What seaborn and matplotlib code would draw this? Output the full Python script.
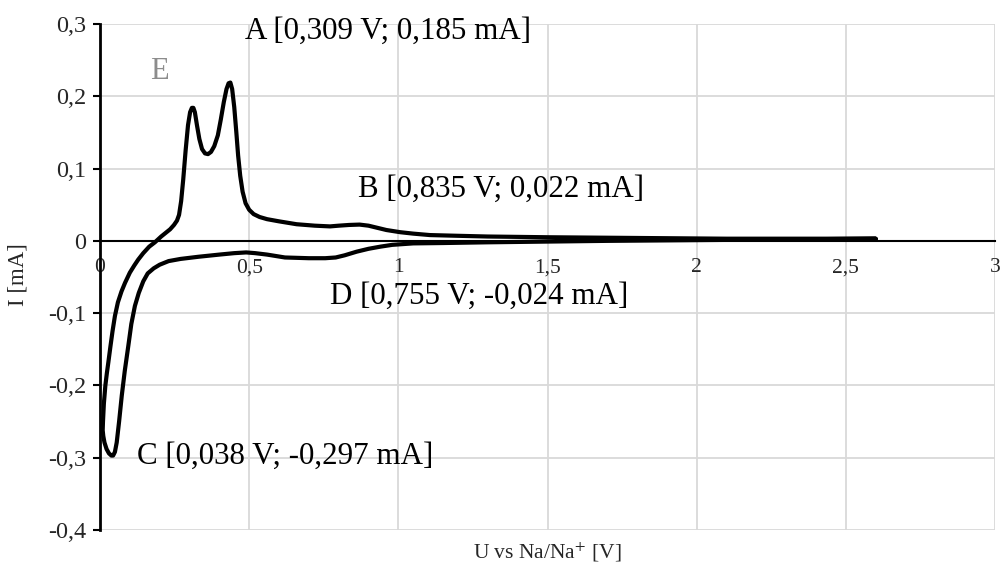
import numpy as np
import pandas as pd
import seaborn as sns
import matplotlib
matplotlib.use("Agg")
import matplotlib.pyplot as plt
from matplotlib.ticker import FuncFormatter

# Cathodic scan (from OCV down to ~0 V)
u_cath = [2.60, 2.30, 2.00, 1.70, 1.50, 1.30, 1.15, 1.05, 0.98, 0.94, 0.90, 0.86, 0.82,
          0.79, 0.755, 0.70, 0.62, 0.56, 0.52, 0.49, 0.45, 0.40, 0.33, 0.27, 0.23, 0.20,
          0.18, 0.16, 0.145, 0.13, 0.117, 0.105, 0.095, 0.083, 0.073, 0.064, 0.056,
          0.050, 0.044, 0.038, 0.030, 0.022, 0.015, 0.011, 0.009]
i_cath = [0.003, 0.002, 0.001, 0.000, -0.001, -0.002, -0.003, -0.0035, -0.0055, -0.008,
          -0.011, -0.015, -0.020, -0.023, -0.024, -0.024, -0.023, -0.019, -0.017, -0.016,
          -0.017, -0.019, -0.022, -0.025, -0.028, -0.033, -0.038, -0.045, -0.056, -0.072,
          -0.090, -0.115, -0.145, -0.180, -0.214, -0.250, -0.279, -0.292, -0.297, -0.297,
          -0.294, -0.288, -0.279, -0.270, -0.262]

# Anodic scan (back up to 2.6 V)
u_anod = [0.009, 0.010, 0.013, 0.018, 0.023, 0.028, 0.035, 0.042, 0.050, 0.060, 0.072,
          0.084, 0.100, 0.115, 0.128, 0.145, 0.165, 0.184, 0.205, 0.220, 0.235, 0.248,
          0.258, 0.265, 0.272, 0.279, 0.287, 0.295, 0.302, 0.308, 0.313, 0.318, 0.325,
          0.333, 0.342, 0.352, 0.362, 0.372, 0.383, 0.395, 0.405, 0.415, 0.424, 0.431,
          0.437, 0.443, 0.450, 0.457, 0.463, 0.470, 0.478, 0.488, 0.500, 0.515, 0.535,
          0.560, 0.600, 0.659, 0.720, 0.771, 0.800, 0.835, 0.870, 0.900, 0.930, 0.960,
          1.006, 1.050, 1.106, 1.200, 1.300, 1.500, 1.800, 2.100, 2.400, 2.600]
i_anod = [-0.262, -0.250, -0.225, -0.200, -0.183, -0.168, -0.146, -0.125, -0.104, -0.085,
          -0.070, -0.058, -0.044, -0.034, -0.026, -0.017, -0.008, -0.002, 0.006, 0.011,
          0.016, 0.022, 0.028, 0.036, 0.055, 0.085, 0.125, 0.160, 0.178, 0.184, 0.184,
          0.178, 0.160, 0.141, 0.127, 0.121, 0.120, 0.123, 0.131, 0.146, 0.168, 0.192,
          0.210, 0.218, 0.219, 0.210, 0.185, 0.150, 0.118, 0.090, 0.068, 0.052, 0.043,
          0.037, 0.033, 0.030, 0.027, 0.023, 0.021, 0.020, 0.021, 0.022, 0.0225, 0.021,
          0.018, 0.015, 0.012, 0.010, 0.008, 0.007, 0.006, 0.005, 0.004, 0.003, 0.003,
          0.003]

# Peak labels
labels = ["A [0,309 V; 0,185 mA]", "B [0,835 V; 0,022 mA]",
          "C [0,038 V; -0,297 mA]", "D [0,755 V; -0,024 mA]"]
label_u = [0.486, 0.865, 0.124, 0.771]
label_i = [0.290, 0.071, -0.298, -0.077]

x_ticks = [0, 0.5, 1, 1.5, 2, 2.5, 3]
y_ticks = [-0.4, -0.3, -0.2, -0.1, 0, 0.1, 0.2, 0.3]

df = pd.DataFrame({"U": u_cath + u_anod, "I": i_cath + i_anod})

sns.set_theme(style="whitegrid")
plt.rcParams["font.family"] = ["Liberation Serif", "DejaVu Serif"]
plt.rcParams["mathtext.fontset"] = "stix"

fig = plt.figure(figsize=(10.01, 5.66), dpi=100)
ax = fig.add_axes([100 / 1001, 1 - 530 / 566, 895 / 1001, 506 / 566])

sns.lineplot(data=df, x="U", y="I", sort=False, estimator=None,
             color="black", linewidth=3, ax=ax)

ax.set_xlim(0, 3)
ax.set_ylim(-0.4, 0.3)
ax.set_xticks(x_ticks)
ax.set_yticks(y_ticks)

comma = FuncFormatter(lambda v, p: f"{v:g}".replace(".", ","))
ax.xaxis.set_major_formatter(comma)
ax.yaxis.set_major_formatter(comma)

ax.grid(True, color="#d9d9d9", linewidth=1.3)
ax.set_facecolor("white")
for side in ["top", "right"]:
    ax.spines[side].set_visible(False)
ax.spines["left"].set_color("black")
ax.spines["left"].set_linewidth(2)
ax.spines["bottom"].set_color("black")
ax.spines["bottom"].set_linewidth(1.5)
ax.spines["bottom"].set_position(("data", 0))

ax.tick_params(axis="x", direction="inout", length=9, width=1.5, color="black",
               labelsize=15.5, pad=8)
ax.tick_params(axis="y", direction="out", length=5, width=1.5, color="black",
               labelsize=17.5, pad=5, left=True)

ax.set_xlabel("")
ax.set_ylabel("")
fig.text(547 / 1001, 1 - 552 / 566, "U vs Na/Na$^{+}$ [V]", fontsize=15.5,
         ha="center", va="center")
fig.text(18 / 1001, 1 - 275 / 566, "I [mA]", fontsize=16.5, rotation=90,
         ha="center", va="center")

for txt, xu, yi in zip(labels, label_u, label_i):
    ax.text(xu, yi, txt, fontsize=22.3, ha="left", va="center", color="black")
ax.text(0.168, 0.234, "E", fontsize=22, ha="left", va="center", color="#8c8c8c")

fig.savefig("out.png", dpi=100)
